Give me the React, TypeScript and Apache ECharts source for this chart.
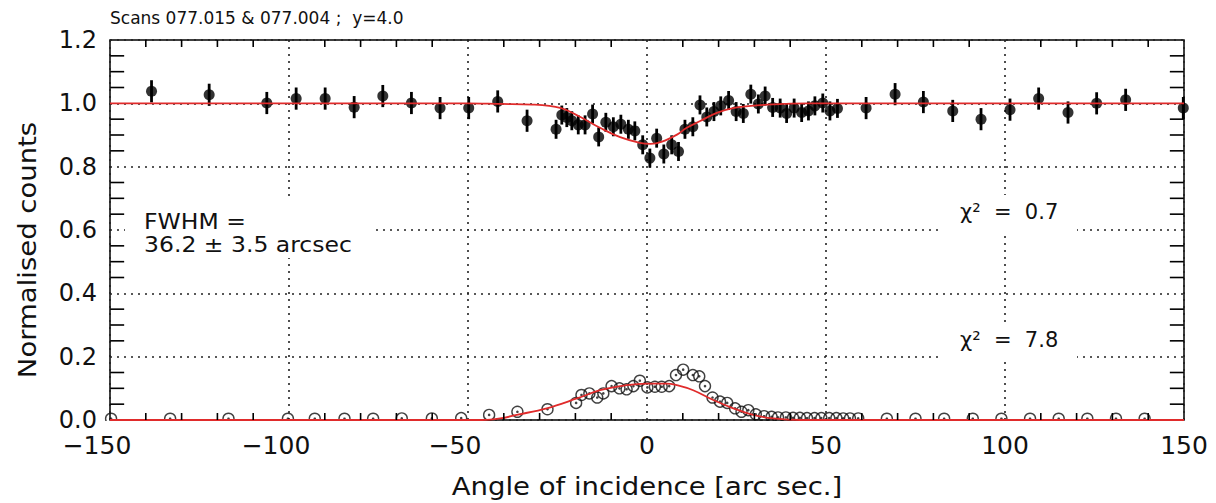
import React, { useEffect, useRef } from 'react';
import * as echarts from 'echarts';

// Top scan: normalised counts (filled dots with error bars)
const topX = [-138.4, -122.3, -106.2, -98.0, -89.9, -81.8, -73.8, -65.8, -57.8, -49.8, -41.7, -33.5, -25.4, -23.8, -22.4, -21.0, -19.2, -17.3, -15.2, -13.5, -11.5, -9.4, -7.3, -5.2, -3.4, -1.2, 0.8, 2.7, 4.7, 6.9, 8.8, 10.6, 12.8, 14.8, 16.7, 18.7, 20.6, 22.8, 24.9, 26.9, 29.0, 31.1, 33.0, 35.1, 37.2, 39.0, 41.1, 43.2, 45.1, 46.9, 49.1, 51.1, 53.2, 61.2, 69.3, 77.2, 85.4, 93.3, 101.4, 109.4, 117.6, 125.6, 133.7, 149.8];
const topY = [1.038, 1.027, 1.001, 1.015, 1.015, 0.988, 1.023, 1.001, 0.985, 0.985, 1.006, 0.945, 0.918, 0.963, 0.955, 0.945, 0.932, 0.932, 0.966, 0.894, 0.940, 0.926, 0.934, 0.918, 0.913, 0.869, 0.827, 0.890, 0.840, 0.869, 0.848, 0.918, 0.926, 0.995, 0.957, 0.974, 0.992, 1.009, 0.974, 0.968, 1.029, 0.998, 1.023, 0.987, 0.985, 0.968, 0.985, 0.971, 0.976, 0.992, 1.001, 0.976, 0.984, 0.985, 1.029, 1.004, 0.976, 0.950, 0.980, 1.015, 0.971, 1.000, 1.011, 0.985];
const topErr = [0.035, 0.035, 0.035, 0.035, 0.035, 0.035, 0.035, 0.035, 0.035, 0.035, 0.035, 0.035, 0.03, 0.03, 0.03, 0.03, 0.03, 0.03, 0.03, 0.03, 0.03, 0.03, 0.03, 0.03, 0.03, 0.03, 0.03, 0.03, 0.03, 0.03, 0.03, 0.03, 0.03, 0.03, 0.03, 0.03, 0.03, 0.03, 0.03, 0.03, 0.03, 0.03, 0.03, 0.03, 0.03, 0.03, 0.03, 0.03, 0.03, 0.03, 0.03, 0.03, 0.03, 0.035, 0.035, 0.035, 0.035, 0.035, 0.035, 0.035, 0.035, 0.035, 0.035, 0.035];

// Bottom scan: open circles
const botX = [-149.7, -133.2, -116.9, -100.3, -92.8, -84.5, -76.5, -68.5, -60.1, -51.9, -44.1, -36.2, -27.8, -19.8, -18.3, -16.1, -13.9, -12.2, -9.9, -7.7, -5.7, -3.8, -2.0, 0.1, 2.2, 4.1, 6.2, 8.1, 10.1, 12.8, 14.6, 16.2, 18.3, 20.4, 22.4, 24.6, 26.4, 28.3, 30.4, 32.7, 34.8, 36.6, 38.8, 40.8, 42.7, 44.7, 46.8, 48.7, 50.9, 52.9, 54.8, 56.7, 59.0, 67.0, 75.0, 83.0, 91.0, 99.0, 107.0, 115.0, 123.0, 131.0, 139.0];
const botY = [0.004, 0.004, 0.004, 0.004, 0.004, 0.004, 0.004, 0.005, 0.005, 0.006, 0.016, 0.026, 0.034, 0.054, 0.079, 0.084, 0.071, 0.084, 0.107, 0.100, 0.097, 0.107, 0.124, 0.103, 0.105, 0.105, 0.107, 0.142, 0.159, 0.142, 0.138, 0.107, 0.071, 0.058, 0.054, 0.037, 0.026, 0.031, 0.018, 0.012, 0.010, 0.008, 0.008, 0.007, 0.007, 0.006, 0.006, 0.006, 0.006, 0.006, 0.005, 0.005, 0.005, 0.004, 0.004, 0.004, 0.004, 0.004, 0.004, 0.004, 0.004, 0.004, 0.004];

// Fitted curves (red)
const fitTopX = [-150, -50, -41, -32, -24, -19, -13, -7.5, -2, 1, 4, 8.5, 11, 15, 19.5, 24, 29, 33.5, 38, 45, 150];
const fitTopY = [1.0, 1.0, 0.998, 0.996, 0.985, 0.959, 0.922, 0.893, 0.875, 0.872, 0.878, 0.902, 0.922, 0.945, 0.970, 0.985, 0.992, 0.996, 0.998, 1.0, 1.0];
const fitBotX = [-150, -46, -41, -36.4, -28, -19.6, -13.1, -5.7, 0, 5.5, 8.3, 12.9, 18.5, 24.1, 29.7, 35.3, 42.7, 150];
const fitBotY = [0, 0, 0.005, 0.016, 0.037, 0.068, 0.094, 0.110, 0.115, 0.115, 0.110, 0.094, 0.063, 0.037, 0.016, 0.005, 0, 0];

// Frame minor tick positions (major ones are the dotted grid lines)
const xMinorTicks = [-140, -130, -120, -110, -90, -80, -70, -60, -40, -30, -20, -10, 10, 20, 30, 40, 60, 70, 80, 90, 110, 120, 130, 140];
const yMinorTicks = [0.05, 0.1, 0.15, 0.25, 0.3, 0.35, 0.45, 0.5, 0.55, 0.65, 0.7, 0.75, 0.85, 0.9, 0.95, 1.05, 1.1, 1.15];
// tick centres, just inside the frame (half a tick length in from each edge)
const xTickCentres = [-148, 148];
const yTickCentres = [0.011, 1.189];

const titleText = 'Scans 077.015 & 077.004 ;  y=4.0';
const xName = 'Angle of incidence [arc sec.]';
const yName = 'Normalised counts';
const fwhmLines = ['FWHM =', '36.2 \u00b1 3.5 arcsec'];
const chiTop = '\u03c7\u00b2  =  0.7';
const chiBot = '\u03c7\u00b2  =  7.8';

const FONT = '"DejaVu Sans", sans-serif';
const INK = '#111';
const RED = '#e02b2b';

export default function App() {
  const ref = useRef<HTMLDivElement>(null);
  useEffect(() => {
    const chart = echarts.init(ref.current!, null, { renderer: 'svg' });
    const dotted = { color: '#222', width: 1.6, type: [2, 5] as any };
    const tickFont = { color: INK, fontFamily: FONT, fontSize: 25 };

    const tickSeries = (data: number[][], size: number[]) => ({
      type: 'scatter',
      data,
      symbol: 'rect',
      symbolSize: size,
      clip: false,
      silent: true,
      itemStyle: { color: '#000', opacity: 1 },
      z: 6,
    });

    const textStyle = (size: number) => ({ fill: INK, fontFamily: FONT, fontSize: size });

    chart.setOption({
      animation: false,
      backgroundColor: '#fff',
      grid: {
        left: 110,
        right: 32,
        top: 40,
        bottom: 83,
        show: true,
        borderColor: '#000',
        borderWidth: 1.5,
        backgroundColor: 'rgba(0,0,0,0)',
      },
      xAxis: {
        type: 'value',
        min: -150,
        max: 150,
        interval: 50,
        axisLine: { show: false, onZero: false },
        axisTick: { show: false },
        axisLabel: {
          show: true,
          ...tickFont,
          margin: 13,
          formatter: (v: number) => (v < 0 ? '{neg|\u2212' + Math.abs(v) + '}' : '{pos|' + v + '}'),
          rich: {
            neg: { ...tickFont, padding: [0, 26, 0, 0] },
            pos: { ...tickFont },
          },
        },
        splitLine: { show: true, lineStyle: dotted },
      },
      yAxis: {
        type: 'value',
        min: 0,
        max: 1.2,
        interval: 0.2,
        axisLine: { show: false, onZero: false },
        axisTick: { show: false },
        axisLabel: { show: true, color: INK, fontFamily: FONT, fontSize: 24, margin: 13, formatter: (v: number) => v.toFixed(1) },
        splitLine: { show: true, lineStyle: dotted },
      },
      series: [
        {
          type: 'custom',
          data: topX.map((x, i) => [x, topY[i], topErr[i]]),
          encode: { x: 0, y: 1 },
          renderItem: (_p: any, api: any) => {
            const x = api.value(0);
            const y = api.value(1);
            const e = api.value(2);
            const a = api.coord([x, y + e]);
            const b = api.coord([x, y - e]);
            return {
              type: 'line',
              shape: { x1: a[0], y1: a[1], x2: b[0], y2: b[1] },
              style: { stroke: '#000', lineWidth: 2.8 },
            };
          },
          z: 3,
        },
        {
          type: 'scatter',
          data: topX.map((x, i) => [x, topY[i]]),
          symbol: 'circle',
          symbolSize: 11,
          itemStyle: { color: '#000' },
          z: 4,
        },
        {
          type: 'scatter',
          data: botX.map((x, i) => [x, botY[i]]),
          symbol: 'circle',
          symbolSize: 11,
          itemStyle: { color: 'rgba(0,0,0,0)', borderColor: '#111', borderWidth: 1.4 },
          z: 4,
        },
        {
          type: 'scatter',
          data: botX.map((x, i) => [x, botY[i]]),
          symbol: 'circle',
          symbolSize: 2.6,
          itemStyle: { color: '#111' },
          z: 4,
        },
        {
          type: 'line',
          data: fitTopX.map((x, i) => [x, fitTopY[i]]),
          showSymbol: false,
          smooth: 0.4,
          lineStyle: { color: RED, width: 1.8 },
          z: 5,
        },
        {
          type: 'line',
          data: fitBotX.map((x, i) => [x, fitBotY[i]]),
          showSymbol: false,
          smooth: 0.4,
          lineStyle: { color: RED, width: 1.8 },
          z: 5,
        },
        // frame minor ticks, pointing inward
        tickSeries(yMinorTicks.map((v) => [xTickCentres[0], v]), [14, 1.6]),
        tickSeries(yMinorTicks.map((v) => [xTickCentres[1], v]), [14, 1.6]),
        tickSeries(xMinorTicks.map((v) => [v, yTickCentres[0]]), [1.6, 7]),
        tickSeries(xMinorTicks.map((v) => [v, yTickCentres[1]]), [1.6, 7]),
      ],
      graphic: [
        {
          type: 'text',
          x: 110,
          y: 18,
          z: 100,
          style: { ...textStyle(17), text: titleText, textAlign: 'left', textVerticalAlign: 'middle' },
        },
        {
          type: 'text',
          x: 27,
          y: 250,
          rotation: Math.PI / 2,
          scaleX: 1.1,
          z: 100,
          style: { ...textStyle(25), text: yName, textAlign: 'center', textVerticalAlign: 'middle' },
        },
        {
          type: 'text',
          x: 647,
          y: 486,
          scaleX: 1.1,
          z: 100,
          style: { ...textStyle(25), text: xName, textAlign: 'center', textVerticalAlign: 'middle' },
        },
        { type: 'rect', x: 125, y: 198, z: 100, shape: { width: 248, height: 60 }, style: { fill: '#fff' } },
        {
          type: 'text',
          x: 144,
          y: 221,
          scaleX: 1.12,
          z: 101,
          style: { ...textStyle(21), text: fwhmLines[0], textAlign: 'left', textVerticalAlign: 'middle' },
        },
        {
          type: 'text',
          x: 144,
          y: 244,
          scaleX: 1.12,
          z: 101,
          style: { ...textStyle(21), text: fwhmLines[1], textAlign: 'left', textVerticalAlign: 'middle' },
        },
        { type: 'rect', x: 943, y: 195, z: 100, shape: { width: 134, height: 38 }, style: { fill: '#fff' } },
        {
          type: 'text',
          x: 960,
          y: 212,
          z: 101,
          style: { ...textStyle(21), text: chiTop, textAlign: 'left', textVerticalAlign: 'middle' },
        },
        { type: 'rect', x: 943, y: 322, z: 100, shape: { width: 134, height: 38 }, style: { fill: '#fff' } },
        {
          type: 'text',
          x: 960,
          y: 340,
          z: 101,
          style: { ...textStyle(21), text: chiBot, textAlign: 'left', textVerticalAlign: 'middle' },
        },
        { type: 'rect', x: 100, y: 421, z: 100, shape: { width: 1100, height: 8 }, style: { fill: '#fff' } },
      ],
    });
    return () => chart.dispose();
  }, []);
  return <div ref={ref} style={{ position: 'fixed', left: 0, top: 0, width: 1216, height: 503 }} />;
}
